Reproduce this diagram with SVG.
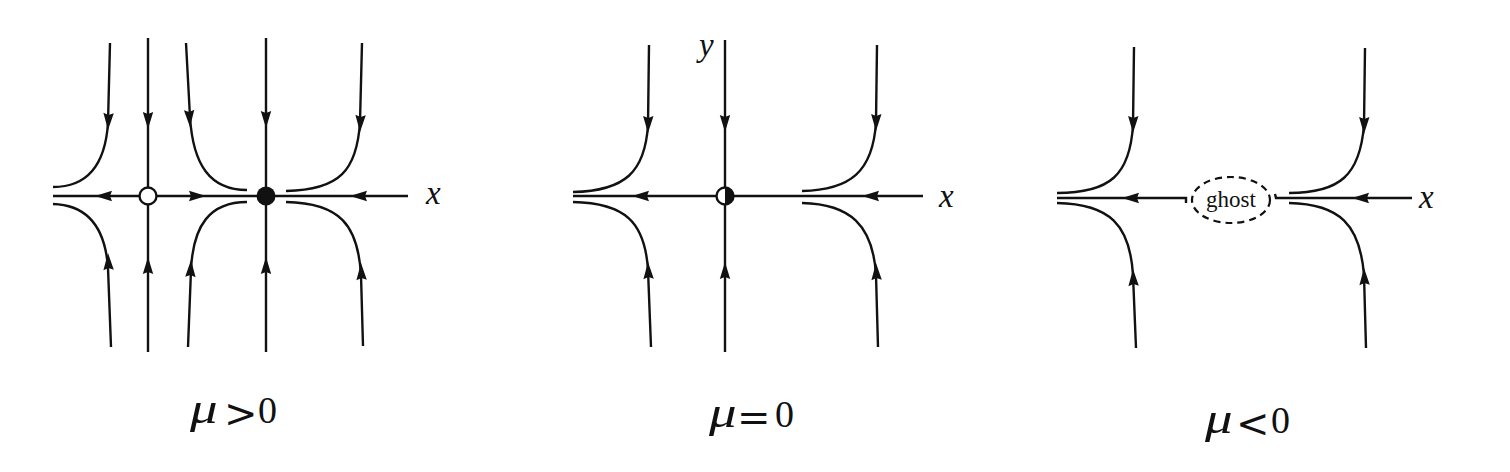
<svg xmlns="http://www.w3.org/2000/svg" xmlns:xlink="http://www.w3.org/1999/xlink" width="1510" height="472" viewBox="0 0 1510 472">
<style>
.ln{fill:none;stroke:#111;stroke-width:2.4;stroke-linecap:butt}
.ah{fill:#111;stroke:none}
.lab{font-family:"Liberation Serif","Times New Roman",serif;fill:#111}
.it{font-style:italic}
.mu{font-size:44px;font-style:italic}
.rel{font-family:"DejaVu Serif","Liberation Serif",serif;font-size:40px;fill:#111}
.num{font-size:38px}
.dash{fill:#fff;stroke:#111;stroke-width:2.2;stroke-dasharray:7 5}
</style>
<defs>
<path id="ah" class="ah" d="M0,0 L-17,-5.2 L-15,0 L-17,5.2 Z"/>
</defs>
<rect width="1510" height="472" fill="#fff"/>

<!-- Panel 1: mu > 0 -->
<g id="connectors-p1">
<path class="ln" d="M53,196 L408,196"/>
<path class="ln" d="M148,38 L148,352"/>
<path class="ln" d="M266,38 L266,352"/>
<path class="ln" d="M110,43 L108,123 C105,168 85,187 53,187"/>
<path class="ln" d="M53,204 C85,205 105,225 108,268 L111,347"/>
<path class="ln" d="M186,43 L190,117 C193,165 210,190 247,190"/>
<path class="ln" d="M247,202 C210,202 193,225 191,270 L188,347"/>
<path class="ln" d="M362,43 L360,122 C357,170 340,190 286,191"/>
<path class="ln" d="M286,202 C340,203 358,225 361,275 L363,346"/>
<use xlink:href="#ah" transform="translate(108,130) rotate(92)"/>
<use xlink:href="#ah" transform="translate(108,253) rotate(-92)"/>
<use xlink:href="#ah" transform="translate(148,129) rotate(90)"/>
<use xlink:href="#ah" transform="translate(148,257) rotate(-90)"/>
<use xlink:href="#ah" transform="translate(190,127) rotate(87)"/>
<use xlink:href="#ah" transform="translate(191,260) rotate(-88)"/>
<use xlink:href="#ah" transform="translate(266,128) rotate(90)"/>
<use xlink:href="#ah" transform="translate(266,257) rotate(-90)"/>
<use xlink:href="#ah" transform="translate(360,132) rotate(92)"/>
<use xlink:href="#ah" transform="translate(361,263) rotate(-92)"/>
<use xlink:href="#ah" transform="translate(95,196) rotate(180)"/>
<use xlink:href="#ah" transform="translate(206,196)"/>
<use xlink:href="#ah" transform="translate(350,196) rotate(180)"/>
</g>
<g id="node-unstable">
<circle cx="148" cy="196" r="8.5" fill="#fff" stroke="#111" stroke-width="2.4"/>
</g>
<g id="node-stable">
<circle cx="266" cy="196" r="9.5" fill="#111"/>
</g>
<g id="labels-p1">
<text class="lab it" x="426" y="204" font-size="33">x</text>
<text class="lab mu" transform="translate(190,423) scale(1.25,1)">μ</text>
<text class="rel" x="224" y="427">&gt;</text>
<text class="lab num" x="258" y="423">0</text>
</g>

<!-- Panel 2: mu = 0 -->
<g id="connectors-p2">
<path class="ln" d="M573,196 L923,196"/>
<path class="ln" d="M725,40 L725,352"/>
<path class="ln" d="M649,45 L648,125 C645,172 625,191 573,192"/>
<path class="ln" d="M573,202 C625,203 645,222 648,270 L651,347"/>
<path class="ln" d="M877,45 L876,122 C873,172 850,190 802,191"/>
<path class="ln" d="M802,203 C850,204 873,225 876,275 L878,347"/>
<use xlink:href="#ah" transform="translate(648,133) rotate(91)"/>
<use xlink:href="#ah" transform="translate(648,262) rotate(-92)"/>
<use xlink:href="#ah" transform="translate(725,132) rotate(90)"/>
<use xlink:href="#ah" transform="translate(725,262) rotate(-90)"/>
<use xlink:href="#ah" transform="translate(876,131) rotate(91)"/>
<use xlink:href="#ah" transform="translate(876,263) rotate(-92)"/>
<use xlink:href="#ah" transform="translate(632,196) rotate(180)"/>
<use xlink:href="#ah" transform="translate(862,196) rotate(180)"/>
</g>
<g id="node-halfstable">
<circle cx="725" cy="196" r="8.5" fill="#fff" stroke="#111" stroke-width="2.4"/>
<path d="M725,187.5 A8.5,8.5 0 0 1 725,204.5 Z" fill="#111"/>
</g>
<g id="labels-p2">
<text class="lab it" x="699" y="56" font-size="33">y</text>
<text class="lab it" x="939" y="207" font-size="33">x</text>
<text class="lab mu" transform="translate(709,427) scale(1.25,1)">μ</text>
<text class="rel" x="737" y="431" font-size="42">=</text>
<text class="lab num" x="775" y="427">0</text>
</g>

<!-- Panel 3: mu < 0 -->
<g id="connectors-p3">
<path class="ln" d="M1057,198 L1186,198 L1186,203"/>
<path class="ln" d="M1275,194 L1276,198 L1412,198"/>
<path class="ln" d="M1134,47 L1133,125 C1130,175 1110,193 1057,193"/>
<path class="ln" d="M1057,203 C1110,204 1130,225 1133,275 L1136,348"/>
<path class="ln" d="M1365,48 L1364,125 C1360,175 1340,193 1289,193"/>
<path class="ln" d="M1289,203 C1340,204 1360,225 1364,275 L1366,348"/>
<use xlink:href="#ah" transform="translate(1133,133) rotate(91)"/>
<use xlink:href="#ah" transform="translate(1133,269) rotate(-92)"/>
<use xlink:href="#ah" transform="translate(1364,134) rotate(91)"/>
<use xlink:href="#ah" transform="translate(1364,268) rotate(-92)"/>
<use xlink:href="#ah" transform="translate(1122,198) rotate(180)"/>
<use xlink:href="#ah" transform="translate(1352,198) rotate(180)"/>
</g>
<g id="node-ghost">
<ellipse class="dash" cx="1231" cy="200" rx="39" ry="23"/>
<text class="lab" x="1231" y="207" font-size="23" text-anchor="middle">ghost</text>
</g>
<g id="labels-p3">
<text class="lab it" x="1419" y="208" font-size="33">x</text>
<text class="lab mu" transform="translate(1205,433) scale(1.25,1)">μ</text>
<text class="rel" x="1236" y="437">&lt;</text>
<text class="lab num" x="1271" y="433">0</text>
</g>
</svg>
